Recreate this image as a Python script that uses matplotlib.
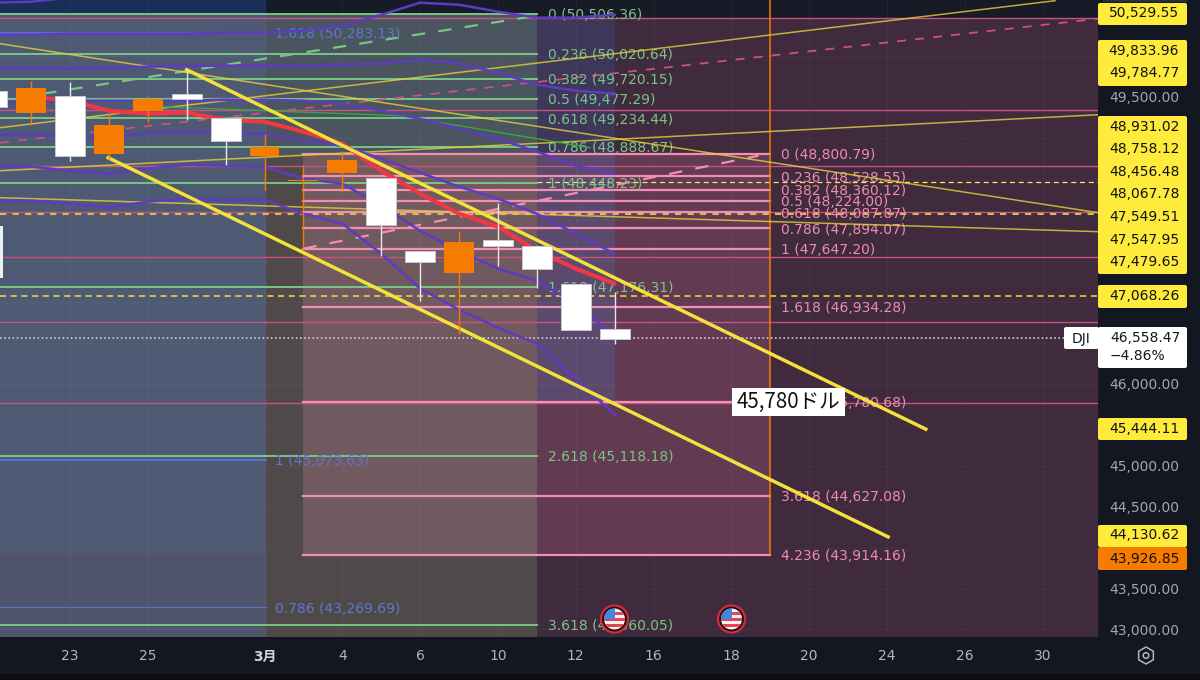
import matplotlib
matplotlib.use("Agg")
import matplotlib.pyplot as plt
from matplotlib.patches import Rectangle, Circle, RegularPolygon, FancyBboxPatch
from matplotlib.transforms import Affine2D, ScaledTranslation

plt.rcParams['font.family'] = ['DejaVu Sans', 'Noto Sans CJK JP']

# ---------- data ----------
bars = list(range(-2, 15))
opens = [49573, 49305, 49512, 48805, 49329, 49537, 49244, 48780, 48476, 48573, 48512, 47621, 47353, 47755, 47682, 47219, 46670]
closes = [49378, 49610, 48780, 49158, 49476, 49476, 48963, 48890, 48488, 48731, 47938, 47487, 47731, 47682, 47402, 46657, 46548]
highs = [49573, 49695, 49683, 49293, 49512, 49817, 49244, 49049, 48670, 48841, 48512, 47621, 47865, 48207, 47694, 47219, 47121]
lows = [49378, 49158, 48719, 48744, 49195, 49219, 48670, 48365, 47646, 48353, 47560, 47011, 46609, 47438, 47170, 46657, 46487]

ma_bars = list(range(-1, 15))
ma_red = [49500, 49451, 49329, 49293, 49305, 49219, 49195, 49073, 48927, 48597, 48317, 48073, 47914, 47621, 47402, 47219]

band_top = [50647, 50659, 50708, 50744]
band_2 = [50256, 50256, 50269, 50269, 50269, 50269, 50281, 50281, 50305, 50366, 50500, 50647, 50622, 50537, 50464, 50464, 50500]
band_3 = [49842, 49842, 49842, 49854, 49866, 49878, 49878, 49878, 49878, 49890, 49903, 49951, 49903, 49793, 49646, 49573, 49537]
band_4 = [49439, 49439, 49451, 49451, 49451, 49451, 49463, 49463, 49451, 49415, 49329, 49232, 49110, 48988, 48829, 48658, 48561]
band_5 = [49036, 49036, 49012, 49000, 49061, 49073, 49061, 49049, 48963, 48902, 48744, 48573, 48402, 48256, 48073, 47829, 47585]
band_6 = [48646, 48646, 48597, 48561, 48622, 48670, 48658, 48646, 48500, 48439, 48170, 47865, 47621, 47402, 47255, 46975, 46584]
band_7 = [48231, 48231, 48195, 48146, 48219, 48256, 48243, 48243, 48073, 47951, 47585, 47158, 46901, 46682, 46487, 46060, 45621]
bands = [band_2, band_3, band_4, band_5, band_6, band_7]

fib_green_levels = ["0", "0.236", "0.382", "0.5", "0.618", "0.786", "1", "1.618", "2.618", "3.618"]
fib_green_prices = [50506.36, 50020.64, 49720.15, 49477.29, 49234.44, 48888.67, 48448.23, 47176.31, 45118.18, 43060.05]
fib_pink_levels = ["0", "0.236", "0.382", "0.5", "0.618", "0.786", "1", "1.618", "2.618", "3.618", "4.236"]
fib_pink_prices = [48800.79, 48528.55, 48360.12, 48224.00, 48087.87, 47894.07, 47647.20, 46934.28, 45780.68, 44627.08, 43914.16]
fib_blue_levels = ["1.618", "1", "0.786"]
fib_blue_prices = [50283.13, 45073.63, 43269.69]

pink_thin_prices = [50464, 49341, 48658, 48097, 47548, 46755, 45767]

thin_trends = [((-1.8, 50147), (26.43, 48085)), ((-1.8, 49122), (25.32, 50671)),
               ((-1.8, 48597), (26.43, 49280)), ((-1.8, 48268), (26.43, 47853))]
channels = [((3.0, 49829), (22.0, 45444)), ((0.98, 48756), (21.03, 44130))]

yticks = [49500, 46000, 45000, 44500, 43500, 43000]
xtick_bars = [0, 2, 5, 7, 9, 11, 13, 15, 17, 19, 21, 23, 25]
xtick_labels = ["23", "25", "3月", "4", "6", "10", "12", "16", "18", "20", "24", "26", "30"]

tag_values = ["50,529.55", "49,833.96", "49,784.77", "48,931.02", "48,758.12", "48,456.48", "48,067.78",
              "47,549.51", "47,547.95", "47,479.65", "47,068.26", "45,444.11", "44,130.62", "43,926.85"]
last_price = "46,558.47"
last_change = "−4.86%"

# ---------- figure ----------
BG = '#131722'
fig = plt.figure(figsize=(12, 6.8), dpi=100, facecolor=BG)
ax = fig.add_axes([0, 43 / 680, 1098 / 1200, 637 / 680], facecolor='#171b27')
ax.set_xlim(-70 / 38.9, (1098 - 70) / 38.9)
ax.set_ylim(49500 - 540.3 * 12.2, 49500 + 96.7 * 12.2)
for s in ax.spines.values():
    s.set_visible(False)
PX = Affine2D().scale(1, -1).translate(0, 680)  # chrome positions in screen pixels
label_tf = ax.transData + Affine2D().translate(0, -1.2)

X0, X1 = ax.get_xlim()
Y0, Y1 = ax.get_ylim()
B_A, B_B, B_C, B_D = 5.04, 5.99, 12.0, 14.01
B_E = 18.0
P_T1, P_T2, P_T3, P_T4, P_T5 = 50500, 50464, 48792, 45767, 43925
regions = [
    (X0, B_A, P_T1, Y1, '#1b2e57'),
    (X0, B_A, Y0, P_T1, '#4e5a74'),
    (B_A, B_C, P_T3, P_T1, '#4a555f'),
    (B_A, B_C, Y0, P_T3, '#4f4a49'),
    (B_B, B_C, P_T5, P_T3, '#705a60'),
    (B_C, X1, Y0, P_T2, '#3f2a3e'),
    (B_C, B_E, P_T5, P_T3, '#623a52'),
    (B_C, B_D, P_T3, P_T2, '#3e3759'),
    (B_C, B_D, P_T4, P_T3, '#5b4a6e'),
]
for x0, x1, p0, p1, c in regions:
    ax.add_patch(Rectangle((x0, p0), x1 - x0, p1 - p0, fc=c, ec='none', zorder=0))
ax.add_patch(Rectangle((X0, Y0), B_A - X0, 43925 - Y0, fc='#50546b', ec='none', zorder=0))

# grid
for b in xtick_bars:
    ax.axvline(b, color='white', alpha=0.035, lw=0.8, zorder=1)
for p in [50000, 49500, 49000, 48500, 48000, 47500, 47000, 46500, 46000, 45500, 45000, 44500, 44000, 43500, 43000]:
    ax.axhline(p, color='white', alpha=0.035, lw=0.8, zorder=1)

# thin full-width lines
for p in pink_thin_prices:
    ax.axhline(p, color='#c9527f', lw=1.0, zorder=2)
ax.plot([B_C, X1], [48456.48, 48456.48], color='#ffe94d', lw=0.9, ls=(0, (4, 3)), zorder=2)
ax.axhline(48067.78, color='#cfc24a', lw=1.5, ls=(0, (3, 3)), zorder=2)
ax.axhline(47068.26, color='#f5df3a', lw=1.1, ls=(0, (4, 3)), zorder=2)
ax.axhline(46558.47, color='#d0d0d0', lw=1.2, ls=(0, (1, 1.5)), zorder=2)

# fib levels
for lvl, p in zip(fib_green_levels, fib_green_prices):
    ax.plot([X0, B_C], [p, p], color='#7ac583', lw=1.4, zorder=2.2)
    ax.text(12.29, p, f"{lvl} ({p:,.2f})", color='#7cc487', fontsize=10, va='center', zorder=3, transform=label_tf)
for lvl, p in zip(fib_pink_levels, fib_pink_prices):
    ax.plot([B_B, B_E], [p, p], color='#f48fb1', lw=1.6, zorder=2.2)
    ax.text(18.28, p, f"{lvl} ({p:,.2f})", color='#ee8cae', fontsize=10, va='center', zorder=3, transform=label_tf)
for lvl, p, w in zip(fib_blue_levels, fib_blue_prices, [1.6, 1.6, 0.9]):
    ax.plot([X0, B_A], [p, p], color='#5872c9', lw=w, zorder=2.2)
    ax.text(5.28, p, f"{lvl} ({p:,.2f})", color='#5c78cc', fontsize=10, va='center', zorder=3, transform=label_tf)

# dashed trend lines of the fib tools
ax.plot([-0.69, 12], [49537, 50488], color='#7ac583', lw=1.6, ls=(0, (6, 6)), zorder=2.4)
ax.plot([-1.8, 26.43], [48939, 50452], color='#c9527f', lw=1.3, ls=(0, (5, 5)), zorder=2.4)
ax.plot([6, 17.7], [47646, 48780], color='#f48fb1', lw=1.6, ls=(0, (6, 6)), zorder=2.4)

# vertical marker
ax.plot([B_E, B_E], [P_T5, Y1], color='#f57c00', lw=1.1, zorder=2.5)

# long thin trend lines
for (a, b) in thin_trends:
    ax.plot([a[0], b[0]], [a[1], b[1]], color='#e6d23a', lw=1.1, alpha=0.8, zorder=3.2)
ax.plot([1.62, 8.48, 13.37], [49390, 49268, 48878], color='#3aa63f', lw=1.0, zorder=3.2)

# purple bands
ax.plot(bars[:4], band_top, color='#5e3bc0', lw=1.7, zorder=3.5)
for b in bands:
    ax.plot(bars, b, color='#5e3bc0', lw=1.8, zorder=3.5)

# moving average
ax.plot(ma_bars, ma_red, color='#f23645', lw=3.0, zorder=3.8, solid_capstyle='round')

# channels
for (a, b) in channels:
    ax.plot([a[0], b[0]], [a[1], b[1]], color='#f4e23c', lw=2.5, zorder=4)

# candles
WHITE, ORANGE = '#ffffff', '#f57c00'
for b, o, c, h, l in zip(bars, opens, closes, highs, lows):
    col = WHITE if c < o else ORANGE
    ax.vlines(b, l, h, color=col if col == ORANGE else '#e8e8e8', lw=1.0, zorder=5)
    ax.bar(b, abs(c - o), bottom=min(o, c), width=0.77, color=col,
           edgecolor='#c8c8d0' if col == WHITE else 'none', lw=0.7, zorder=5.5)
ax.add_patch(Rectangle((X0, 47292), 3 / 38.9, 634, fc='#eef2ee', ec='none', zorder=5.5))

# axes ticks
ax.yaxis.tick_right()
ax.set_yticks(yticks)
ax.set_yticklabels([f"{v:,.2f}" for v in yticks])
ax.set_xticks(xtick_bars)
ax.set_xticklabels(xtick_labels)
ax.tick_params(axis='y', length=0, pad=8, labelcolor='#a3a6af', labelsize=10)
ax.tick_params(axis='x', length=0, pad=9, labelcolor='#b2b5be', labelsize=10)
for lab in ax.get_xticklabels():
    if lab.get_text() == "3月":
        lab.set_fontweight('bold')
        lab.set_color('#d1d4dc')

# ---------- chrome ----------
def box(x0, y0, x1, y1, color, z=20):
    fig.add_artist(FancyBboxPatch((x0 + 1, y0 + 1), x1 - x0 - 2, y1 - y0 - 2, boxstyle="round,pad=1,rounding_size=2",
                                  fc=color, ec='none', transform=PX, zorder=z))

YELLOW = '#ffeb3b'
fig.add_artist(Rectangle((1103, 0), 84, 2, fc='#2a2e39', ec='none', transform=PX, zorder=19))
box(1098, 3, 1187, 25, YELLOW)
box(1098, 40, 1187, 86, YELLOW)
box(1098, 116, 1187, 274, YELLOW)
box(1098, 285, 1187, 308, YELLOW)
box(1098, 418, 1187, 440, YELLOW)
box(1098, 525, 1187, 547, YELLOW)
box(1098, 547, 1187, 570, '#f57c00')
tag_y = [13, 51, 73, 127, 149, 172, 194, 217, 240, 262, 296, 429, 535, 559]
for v, y in zip(tag_values, tag_y):
    fig.text(1144, y, v, transform=PX, color='#111111', fontsize=10, ha='center', va='center', zorder=21)

box(1064, 327, 1099, 349, '#ffffff')
box(1098, 327, 1187, 368, '#ffffff')
fig.text(1081, 339, "DJI", transform=PX, color='#131722', fontsize=10, ha='center', va='center', zorder=22)
fig.text(1110, 338, last_price, transform=PX, color='#131722', fontsize=10, ha='left', va='center', zorder=22)
fig.text(1110, 356, last_change, transform=PX, color='#131722', fontsize=10, ha='left', va='center', zorder=22)

# callout
fig.add_artist(Rectangle((732, 388), 113, 28, fc='white', ec='none', transform=PX, zorder=15))
fig.text(788.5, 402, "45,780ドル", transform=PX, color='#111111', fontsize=14.8, ha='center', va='center',
         family=['Noto Sans CJK JP', 'DejaVu Sans'], zorder=16)

# event flags
for cx in [614.5, 731.5]:
    c = (cx, 619)
    fig.add_artist(Circle(c, 13.5, fc='#111111', ec='#d8283a', lw=1.6, transform=PX, zorder=12))
    clip = Circle(c, 10.5, transform=PX)
    parts = [Rectangle((cx - 11, 608), 22, 22, fc='#f4f4f4', ec='none', transform=PX, zorder=13)]
    for sy in [612, 618, 624]:
        parts.append(Rectangle((cx - 11, sy), 22, 3, fc='#e8434f', ec='none', transform=PX, zorder=13.1))
    parts.append(Rectangle((cx - 11, 608), 11, 11, fc='#3f87e0', ec='none', transform=PX, zorder=13.2))
    for p in parts:
        fig.add_artist(p)
        p.set_clip_path(clip)

# settings icon
fig.add_artist(RegularPolygon((1146, 655.5), 6, radius=8.5, fc='none', ec='#b2b5be', lw=1.1, transform=PX, zorder=12))
fig.add_artist(Circle((1146, 655.5), 2.8, fc='none', ec='#b2b5be', lw=1.1, transform=PX, zorder=12))

# bottom strip
fig.add_artist(Rectangle((0, 674), 1200, 6, fc='#0d0d0f', ec='none', transform=PX, zorder=11))

fig.savefig('out.png', dpi=100, facecolor=fig.get_facecolor())
